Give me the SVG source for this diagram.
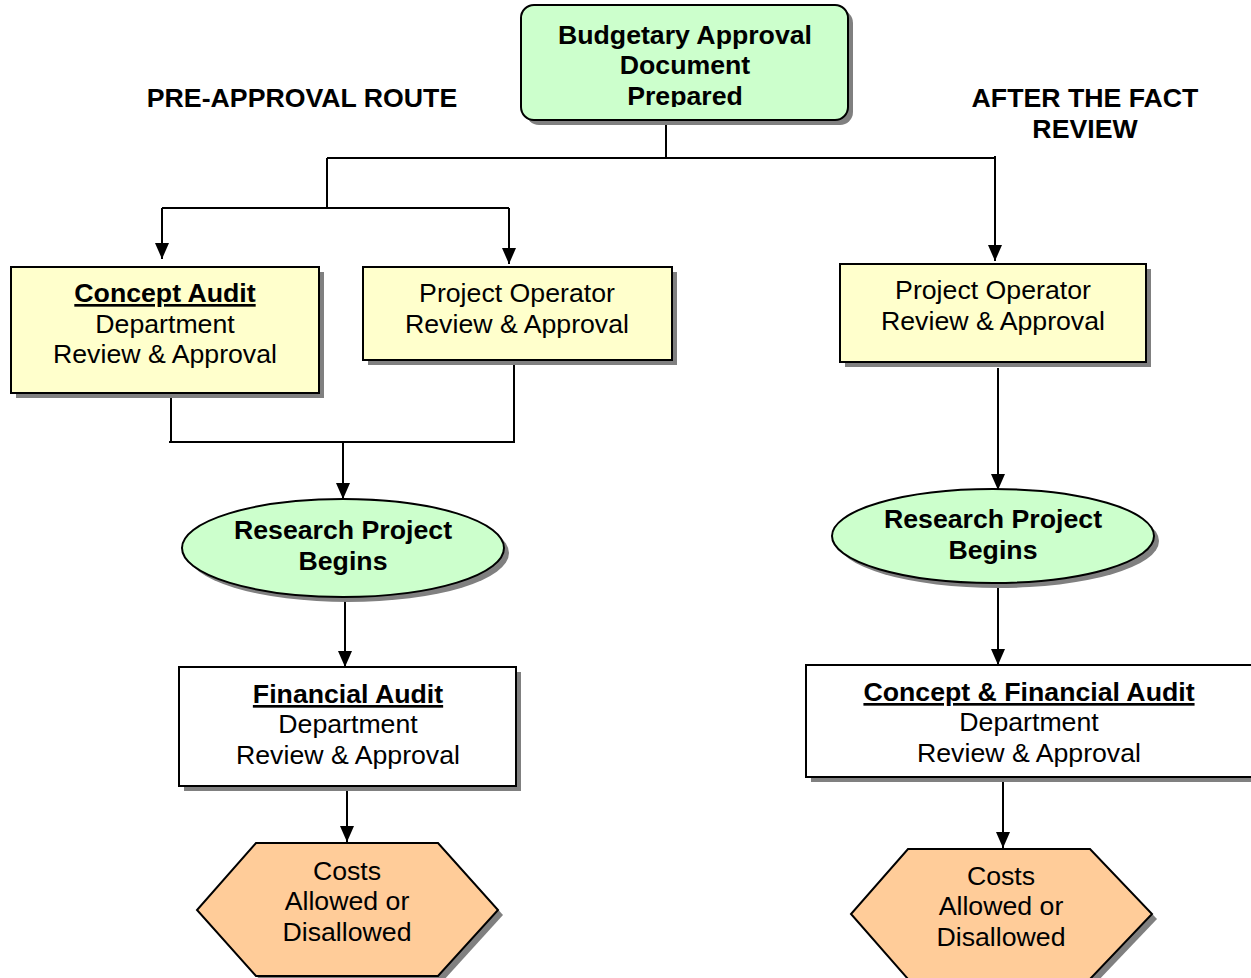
<svg xmlns="http://www.w3.org/2000/svg" width="1251" height="978" viewBox="0 0 1251 978">
<defs>
<marker id="arr" viewBox="0 0 16 14" markerWidth="16" markerHeight="14" refX="16" refY="7" orient="auto" markerUnits="userSpaceOnUse">
<path d="M0,0 L16,7 L0,14 z" fill="#000"/>
</marker>
<clipPath id="topclip"><rect x="515" y="0" width="340" height="107"/></clipPath>
</defs>
<style>
.shadow{fill:#808080;stroke:none}
.node{stroke:#000;stroke-width:2}
.green{fill:#ccffcc}
.yellow{fill:#ffffcc}
.white{fill:#ffffff}
.orange{fill:#ffcc99}
.conn{fill:none;stroke:#000;stroke-width:2}
text{font-family:"Liberation Sans",Arial,sans-serif;font-size:26.7px;fill:#000;text-anchor:middle}
.b{font-weight:bold}
.u{text-decoration:underline}
</style>
<rect width="1251" height="978" fill="#fff"/>

<g id="labels">
<text class="b" x="302" y="107">PRE-APPROVAL ROUTE</text>
<text class="b" x="1085" y="107">AFTER THE FACT</text>
<text class="b" x="1085" y="138">REVIEW</text>
</g>

<g id="connectors">
<path class="conn" d="M666,120 V158 M327,158 H995 M327,158 V208 M162,208 H509"/>
<path class="conn" d="M162,208 V259" marker-end="url(#arr)"/>
<path class="conn" d="M509,208 V264" marker-end="url(#arr)"/>
<path class="conn" d="M995,156 V261" marker-end="url(#arr)"/>
<path class="conn" d="M171,395 V442 M514,362 V442 M169,442 H515"/>
<path class="conn" d="M343,442 V499" marker-end="url(#arr)"/>
<path class="conn" d="M345,601 V667" marker-end="url(#arr)"/>
<path class="conn" d="M347,790 V842" marker-end="url(#arr)"/>
<path class="conn" d="M998,368 V490" marker-end="url(#arr)"/>
<path class="conn" d="M998,588 V665" marker-end="url(#arr)"/>
<path class="conn" d="M1003,780 V848" marker-end="url(#arr)"/>
</g>

<g id="budget">
<rect class="shadow" x="526" y="10" width="327" height="115" rx="13"/>
<rect class="node green" x="521" y="5" width="327" height="115" rx="13"/>
<g clip-path="url(#topclip)">
<text class="b" x="685" y="44">Budgetary Approval</text>
<text class="b" x="685" y="74">Document</text>
<text class="b" x="685" y="105">Prepared</text>
</g>
</g>

<g id="concept-audit">
<rect class="shadow" x="16" y="272" width="308" height="126"/>
<rect class="node yellow" x="11" y="267" width="308" height="126"/>
<text class="b u" x="165" y="302">Concept Audit</text>
<text x="165" y="333">Department</text>
<text x="165" y="363">Review &amp; Approval</text>
</g>

<g id="operator-left">
<rect class="shadow" x="368" y="272" width="309" height="93"/>
<rect class="node yellow" x="363" y="267" width="309" height="93"/>
<text x="517" y="302">Project Operator</text>
<text x="517" y="333">Review &amp; Approval</text>
</g>

<g id="operator-right">
<rect class="shadow" x="845" y="269" width="306" height="98"/>
<rect class="node yellow" x="840" y="264" width="306" height="98"/>
<text x="993" y="299">Project Operator</text>
<text x="993" y="330">Review &amp; Approval</text>
</g>

<g id="research-left">
<ellipse class="shadow" cx="348" cy="553" rx="161" ry="49"/>
<ellipse class="node green" cx="343" cy="548" rx="161" ry="49"/>
<text class="b" x="343" y="539">Research Project</text>
<text class="b" x="343" y="570">Begins</text>
</g>

<g id="research-right">
<ellipse class="shadow" cx="998" cy="541" rx="161" ry="47"/>
<ellipse class="node green" cx="993" cy="536" rx="161" ry="47"/>
<text class="b" x="993" y="528">Research Project</text>
<text class="b" x="993" y="559">Begins</text>
</g>

<g id="financial-audit">
<rect class="shadow" x="184" y="672" width="337" height="119"/>
<rect class="node white" x="179" y="667" width="337" height="119"/>
<text class="b u" x="348" y="703">Financial Audit</text>
<text x="348" y="733">Department</text>
<text x="348" y="764">Review &amp; Approval</text>
</g>

<g id="concept-financial-audit">
<rect class="shadow" x="811" y="670" width="450" height="112"/>
<rect class="node white" x="806" y="665" width="450" height="112"/>
<text class="b u" x="1029" y="701">Concept &amp; Financial Audit</text>
<text x="1029" y="731">Department</text>
<text x="1029" y="762">Review &amp; Approval</text>
</g>

<g id="costs-left">
<polygon class="shadow" points="261,848 443,848 503,915 443,981 261,981 202,915"/>
<polygon class="node orange" points="256,843 438,843 498,910 438,976 256,976 197,910"/>
<text x="347" y="880">Costs</text>
<text x="347" y="910">Allowed or</text>
<text x="347" y="941">Disallowed</text>
</g>

<g id="costs-right">
<polygon class="shadow" points="913,854 1095,854 1157,919 1095,984 913,984 856,919"/>
<polygon class="node orange" points="908,849 1090,849 1152,914 1090,979 908,979 851,914"/>
<text x="1001" y="885">Costs</text>
<text x="1001" y="915">Allowed or</text>
<text x="1001" y="946">Disallowed</text>
</g>
</svg>
